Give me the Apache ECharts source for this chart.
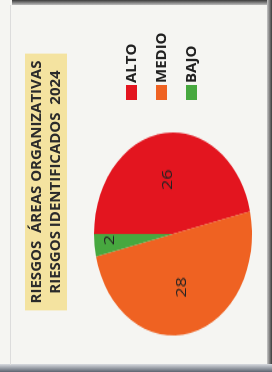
<!DOCTYPE html>
<html>
<head>
<meta charset="utf-8">
<script src="https://cdn.jsdelivr.net/npm/echarts@6/dist/echarts.min.js"></script>
<style>
  html, body { margin: 0; padding: 0; }
  body { width: 272px; height: 372px; background: #f5f5f2; position: relative; overflow: hidden; }
  .edge-top { position: absolute; left: 12px; top: 0; width: 260px; height: 5px; background: linear-gradient(#3a3a3a, #bdbdbd); }
  .edge-right { position: absolute; right: 0; top: 0; width: 5px; height: 372px; background: linear-gradient(to left, #3a3a3a, #c8c8c8); }
  .edge-bottom { position: absolute; left: 0; bottom: 0; width: 272px; height: 8px; background: linear-gradient(#d8dbe0, #5d6470); }
  .edge-left { position: absolute; left: 10px; top: 5px; width: 1px; height: 360px; background: #dcdcdc; }
  /* the chart is laid out upright (372x272) and turned a quarter anticlockwise */
  #frame { position: absolute; left: 0; top: 0; width: 372px; height: 272px;
           transform-origin: 0 0; transform: translate(0, 372px) rotate(-90deg); }
  #head, #pie { position: absolute; left: 0; top: 0; width: 372px; height: 272px; }
  /* tilted pie: stretch the circle into an ellipse */
  #pie { transform-origin: 138px 173px; transform: scaleX(1.285); }
</style>
</head>
<body>
<div class="edge-top"></div>
<div class="edge-right"></div>
<div class="edge-bottom"></div>
<div class="edge-left"></div>
<div id="frame">
  <div id="pie"></div>
  <div id="head"></div>
</div>
<script>
// 数据
const categories = ['ALTO', 'MEDIO', 'BAJO']
const values = [26, 28, 2]
const colors = ['#e3151f', '#ef6222', '#47a83f']
const titleLines = ['RIESGOS  ÁREAS ORGANIZATIVAS', 'RIESGOS IDENTIFICADOS  2024']

const pieData = categories.map((name, i) => ({
  name: name,
  value: values[i],
  itemStyle: { color: colors[i] }
}))

// 标题 + 图例
const head = echarts.init(document.getElementById('head'))
head.setOption({
  title: {
    text: titleLines.join('\n'),
    left: 183,
    top: 25,
    textAlign: 'center',
    padding: [2, 7, 2, 7],
    backgroundColor: '#f4e3a0',
    textStyle: {
      fontFamily: 'Open Sans',
      fontWeight: 'bold',
      fontSize: 15,
      lineHeight: 19,
      color: '#2b2b2b'
    }
  },
  legend: {
    orient: 'vertical',
    left: 267,
    top: 119,
    itemWidth: 15,
    itemHeight: 11,
    itemGap: 15,
    icon: 'rect',
    data: categories,
    textStyle: {
      fontFamily: 'Open Sans',
      fontWeight: 'bold',
      fontSize: 15,
      lineHeight: 15,
      color: '#222',
      padding: [0, 0, 0, -3]
    }
  },
  series: [{
    type: 'pie',
    radius: 0,
    silent: true,
    label: { show: false },
    data: pieData
  }]
})

// 饼图
const pie = echarts.init(document.getElementById('pie'))
pie.setOption({
  series: [{
    type: 'pie',
    center: [138, 173],
    radius: 79,
    startAngle: 90,
    clockwise: true,
    animation: false,
    label: {
      show: true,
      position: 'inside',
      // the thin slice keeps its number near the rim
      formatter: p => p.dataIndex === 2 ? p.value + '\n\n\n' : String(p.value),
      fontFamily: 'Open Sans',
      fontSize: 14,
      lineHeight: 14,
      color: '#222'
    },
    labelLine: { show: false },
    data: pieData
  }]
})
</script>
</body>
</html>
